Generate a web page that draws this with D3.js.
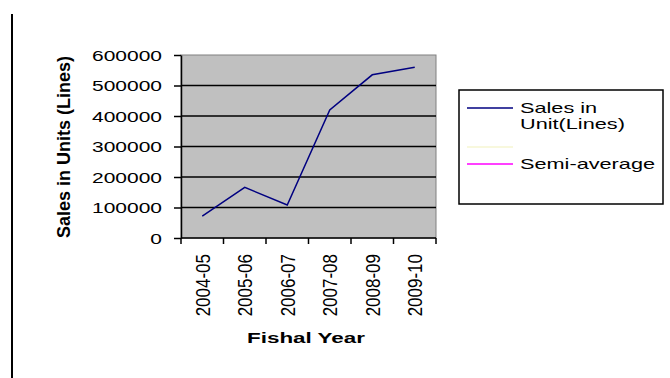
<!DOCTYPE html>
<html>
<head>
<meta charset="utf-8">
<script src="https://cdn.jsdelivr.net/npm/d3@7"></script>
<style>
  html, body { margin: 0; padding: 0; background: #fff; }
  svg { display: block; }
  text { font-family: Arial, "Liberation Sans", sans-serif; fill: #000; }
</style>
</head>
<body>
<svg id="chart" width="670" height="378"></svg>
<script>
// Fiscal years on the category axis
const years = ["2004-05", "2005-06", "2006-07", "2007-08", "2008-09", "2009-10"];
// Sales in units (lines) per year
const sales = [72000, 166000, 108000, 420000, 535000, 560000];
// Value axis ticks
const yTicks = [0, 100000, 200000, 300000, 400000, 500000, 600000];
// Legend entries
const legendNames = ["Sales in|Unit(Lines)", "", "Semi-average"];
const legendColors = ["#000080", "#f6f6d2", "#ff00ff"];

const svg = d3.select("#chart");

// left frame rule
svg.append("line")
  .attr("x1", 12).attr("x2", 12).attr("y1", 14).attr("y2", 378)
  .attr("stroke", "#000").attr("stroke-width", 2);

const plot = { left: 181, right: 436, top: 55, bottom: 238 };

const x = d3.scaleBand().domain(years).range([plot.left, plot.right]);
const y = d3.scaleLinear().domain([0, 600000]).range([plot.bottom, plot.top]);

// plot area
svg.append("rect")
  .attr("x", plot.left).attr("y", plot.top)
  .attr("width", plot.right - plot.left).attr("height", plot.bottom - plot.top)
  .attr("fill", "#c0c0c0").attr("stroke", "#808080").attr("stroke-width", 1);

// gridlines
svg.append("g").selectAll("line")
  .data(yTicks.filter(v => v > 0 && v < 600000))
  .join("line")
  .attr("x1", plot.left).attr("x2", plot.right)
  .attr("y1", d => y(d)).attr("y2", d => y(d))
  .attr("stroke", "#000").attr("stroke-width", 1.5);

// value axis
const yAxis = svg.append("g")
  .attr("transform", `translate(${plot.left},0)`)
  .call(d3.axisLeft(y).tickValues(yTicks).tickSize(7).tickSizeOuter(0).tickFormat(d3.format("d")));
yAxis.select(".domain").attr("stroke", "#000").attr("stroke-width", 1.5);
yAxis.selectAll(".tick line").attr("stroke", "#000").attr("stroke-width", 1.5);
yAxis.selectAll(".tick text")
  .attr("x", 0).attr("dy", "0.36em")
  .attr("text-anchor", "end")
  .attr("transform", "translate(-19,0) scale(1.4,1)")
  .style("font-family", "Arial, 'Liberation Sans', sans-serif")
  .style("font-size", "15px").attr("fill", "#000");

// category axis line and ticks between categories
svg.append("line")
  .attr("x1", plot.left).attr("x2", plot.right)
  .attr("y1", plot.bottom).attr("y2", plot.bottom)
  .attr("stroke", "#000").attr("stroke-width", 1.5);
const bounds = d3.range(years.length + 1).map(i => plot.left + i * x.step());
svg.append("g").selectAll("line")
  .data(bounds)
  .join("line")
  .attr("x1", d => d).attr("x2", d => d)
  .attr("y1", plot.bottom).attr("y2", plot.bottom + 6)
  .attr("stroke", "#000").attr("stroke-width", 1.5);

// category labels, rotated
svg.append("g").selectAll("text")
  .data(years)
  .join("text")
  .attr("transform", d => `translate(${x(d) + x.bandwidth() / 2},254) scale(1.2,1) rotate(-90)`)
  .attr("text-anchor", "end")
  .attr("dy", "0.36em")
  .style("font-size", "17px")
  .text(d => d);

// sales line
const line = d3.line()
  .x((d, i) => x(years[i]) + x.bandwidth() / 2)
  .y(d => y(d));
svg.append("path")
  .datum(sales)
  .attr("d", line)
  .attr("fill", "none")
  .attr("stroke", "#000080")
  .attr("stroke-width", 1.5);

// axis titles
svg.append("text")
  .attr("transform", "translate(64,147) rotate(-90)")
  .attr("text-anchor", "middle")
  .attr("dy", "0.35em")
  .style("font-size", "18px").style("font-weight", "bold")
  .text("Sales in Units (Lines)");

svg.append("text")
  .attr("transform", "translate(306,343) scale(1.6,1)")
  .attr("text-anchor", "middle")
  .style("font-size", "14px").style("font-weight", "bold")
  .text("Fishal Year");

// legend
const lg = svg.append("g");
lg.append("rect")
  .attr("x", 459).attr("y", 90).attr("width", 204).attr("height", 114)
  .attr("fill", "#fff").attr("stroke", "#000").attr("stroke-width", 1.5);

const rowY = [108, 147, 164];
legendNames.forEach((name, i) => {
  lg.append("line")
    .attr("x1", 467).attr("x2", 513)
    .attr("y1", rowY[i]).attr("y2", rowY[i])
    .attr("stroke", legendColors[i]).attr("stroke-width", 1.5);
  name.split("|").forEach((part, j) => {
    lg.append("text")
      .attr("transform", `translate(520,${rowY[i] + 5 + j * 16}) scale(1.55,1)`)
      .style("font-size", "14px")
      .text(part);
  });
});
</script>
</body>
</html>
